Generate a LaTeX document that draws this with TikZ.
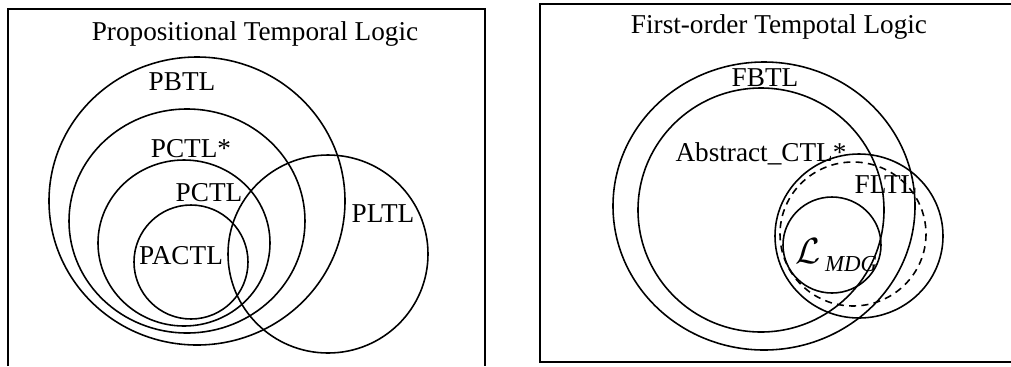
\documentclass[tikz,border=0pt]{standalone}
\usepackage{fontspec}
\setmainfont{Liberation Serif}

\begin{document}
\begin{tikzpicture}[x=0.02cm, y=-0.02cm,
  every node/.style={font=\fontsize{15.5}{18}\selectfont, inner sep=0pt, anchor=base},
  frameline/.style={line width=1.2pt},
  setline/.style={line width=0.9pt},
  dashline/.style={line width=0.9pt, dash pattern=on 4pt off 3pt}]
  \useasboundingbox (0,0) rectangle (1011,366);
  % left panel: propositional logics
  \draw[frameline] (8,366) -- (8,9) -- (485,9) -- (485,366);
  \node (ptitle) at (255,40) {Propositional Temporal Logic};
  \draw[setline] (197,201) ellipse (148 and 144);
  \draw[setline] (187,221) ellipse (118 and 112);
  \draw[setline] (184,243) ellipse (86 and 83);
  \draw[setline] (191,262) ellipse (57 and 57);
  \draw[setline] (328,254) ellipse (100 and 99);
  \node (pbtl) at (182,90) {PBTL};
  \node (pctlstar) at (191,157) {PCTL*};
  \node (pctl) at (209,201) {PCTL};
  \node (pactl) at (181,264) {PACTL};
  \node (pltl) at (383,222) {PLTL};
  % right panel: first-order logics
  \draw[frameline] (1011,4) -- (540,4) -- (540,362) -- (1011,362);
  \node (ftitle) at (779,33) {First-order Tempotal Logic};
  \draw[setline] (764,206) ellipse (151 and 144);
  \draw[setline] (761,210) ellipse (123 and 122);
  \draw[setline] (859,236) ellipse (84 and 82);
  \draw[dashline] (853,234) ellipse (73 and 72);
  \draw[setline] (832,245) ellipse (49 and 48);
  \node (fbtl) at (765,86) {FBTL};
  \node (actl) at (761,161) {Abstract\_CTL*};
  \node (fltl) at (886,193) {FLTL};
  \node[anchor=base west] (lmdg) at (795,263)
    {{\fontsize{21}{24}\selectfont$\mathcal{L}$}\,\raisebox{-5pt}{\fontsize{13}{15}\selectfont\itshape MDG}};
\end{tikzpicture}
\end{document}
